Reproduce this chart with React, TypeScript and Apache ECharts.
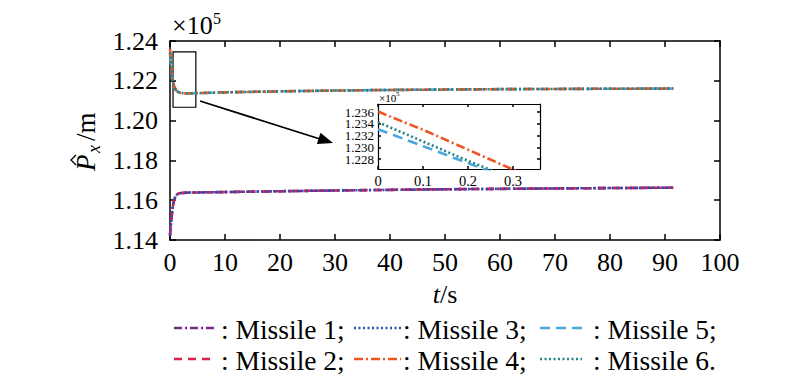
import React, { useEffect, useRef } from "react";
import * as echarts from "echarts";

// ---- data (values in units of 10^5 m) ----
const time = [0, 0.1, 0.2, 0.3, 0.4, 0.5, 0.7, 1, 1.3, 1.6, 2, 2.5, 3, 5, 10, 20, 30, 40, 50, 60, 70, 80, 91.5];

const missile1 = [1.1420, 1.1455, 1.1487, 1.1516, 1.1542, 1.1564, 1.1595, 1.1619, 1.1629, 1.1634, 1.1636, 1.1637, 1.1638, 1.1639, 1.1641, 1.1645, 1.1649, 1.1652, 1.1655, 1.1657, 1.1659, 1.1661, 1.1663];
const missile2 = [1.1428, 1.1459, 1.1490, 1.1518, 1.1544, 1.1566, 1.1597, 1.1620, 1.1629, 1.1634, 1.1636, 1.1637, 1.1638, 1.1639, 1.1641, 1.1645, 1.1649, 1.1652, 1.1655, 1.1657, 1.1659, 1.1661, 1.1663];
const missile3 = [1.1424, 1.1457, 1.1488, 1.1517, 1.1543, 1.1565, 1.1596, 1.1619, 1.1629, 1.1634, 1.1636, 1.1637, 1.1638, 1.1639, 1.1641, 1.1645, 1.1649, 1.1652, 1.1655, 1.1657, 1.1659, 1.1661, 1.1663];
const missile4 = [1.2361, 1.2330, 1.2296, 1.2262, 1.2232, 1.2208, 1.2178, 1.2158, 1.2148, 1.2142, 1.2139, 1.2137, 1.2137, 1.2138, 1.2142, 1.2147, 1.2151, 1.2154, 1.2156, 1.2158, 1.2159, 1.2160, 1.2161];
const missile5 = [1.2331, 1.2302, 1.2273, 1.2244, 1.2219, 1.2199, 1.2174, 1.2156, 1.2147, 1.2142, 1.2139, 1.2137, 1.2137, 1.2138, 1.2142, 1.2147, 1.2151, 1.2154, 1.2156, 1.2158, 1.2159, 1.2160, 1.2161];
const missile6 = [1.2343, 1.2310, 1.2277, 1.2246, 1.2221, 1.2200, 1.2174, 1.2157, 1.2148, 1.2142, 1.2139, 1.2137, 1.2137, 1.2138, 1.2142, 1.2147, 1.2151, 1.2154, 1.2156, 1.2158, 1.2159, 1.2160, 1.2161];

const insetYTicks = [1.228, 1.230, 1.232, 1.234, 1.236];
const insetYLabelsA = [1.228, 1.232, 1.236];
const insetYLabelsB = [1.230, 1.234];
const insetXTicks = [0, 0.1, 0.2, 0.3];

// zoom box in data coordinates [t, value]
const zoomBox = [[0.55, 1.2345], [4.7, 1.2067]];

const legendRows = [
  ["Missile 1;", "Missile 3;", "Missile 5;"],
  ["Missile 2;", "Missile 4;", "Missile 6."],
];

// ---- styles ----
const FONT = "Liberation Serif";
const styleOf: Record<string, { color: string; dash: number[]; z: number }> = {
  "Missile 1": { color: "#7B2A8C", dash: [8, 3, 2, 3], z: 2 },
  "Missile 2": { color: "#D92050", dash: [8, 6], z: 3 },
  "Missile 3": { color: "#2B4FB2", dash: [2, 2.5], z: 4 },
  "Missile 4": { color: "#EE5522", dash: [9, 3, 2, 3], z: 6 },
  "Missile 5": { color: "#48A8DC", dash: [10, 6], z: 5 },
  "Missile 6": { color: "#238585", dash: [2, 2.5], z: 7 },
};
const seriesData: Record<string, number[]> = {
  "Missile 1": missile1,
  "Missile 2": missile2,
  "Missile 3": missile3,
  "Missile 4": missile4,
  "Missile 5": missile5,
  "Missile 6": missile6,
};

function pairs(vals: number[]) {
  return time.map((t, i) => [t, vals[i]]);
}

export default function App() {
  const ref = useRef<HTMLDivElement>(null);
  useEffect(() => {
    if (!ref.current) return;
    const chart = echarts.init(ref.current, null, { renderer: "svg" });

    const axisLine = { show: true, onZero: false, lineStyle: { color: "#000", width: 1.5 } };
    const tick = (len: number) => ({ show: true, inside: true, length: len, lineStyle: { color: "#000", width: 1.5 } });

    const series: any[] = [];
    Object.keys(seriesData).forEach((name) => {
      const st = styleOf[name];
      const s: any = {
        name,
        type: "line",
        xAxisIndex: 0,
        yAxisIndex: 0,
        data: pairs(seriesData[name]),
        showSymbol: false,
        symbol: "none",
        z: st.z,
        lineStyle: { color: st.color, width: 2.6, type: st.dash },
        clip: true,
      };
      if (name === "Missile 4") {
        s.markArea = {
          silent: true,
          label: { show: false },
          itemStyle: { color: "rgba(0,0,0,0)", borderColor: "#000", borderWidth: 1.2 },
          data: [[{ coord: zoomBox[0] }, { coord: zoomBox[1] }]],
        };
      }
      series.push(s);
    });
    ["Missile 5", "Missile 4", "Missile 6"].forEach((name) => {
      const st = styleOf[name];
      series.push({
        name: name + " (inset)",
        type: "line",
        xAxisIndex: 2,
        yAxisIndex: 2,
        data: pairs(seriesData[name]),
        showSymbol: false,
        symbol: "none",
        z: st.z,
        lineStyle: { color: st.color, width: 2.6, type: st.dash },
        clip: true,
      });
    });

    // legend graphics
    const legendGraphics: any[] = [];
    const colLine = [[174, 215], [354, 401], [540, 582]];
    const colText = [221, 403, 593];
    const rowY = [328, 359];
    legendRows.forEach((row, r) => {
      row.forEach((label, c) => {
        const key = label.slice(0, 9);
        const st = styleOf[key];
        legendGraphics.push({
          type: "line",
          shape: { x1: colLine[c][0], y1: rowY[r], x2: colLine[c][1], y2: rowY[r] },
          style: { stroke: st.color, lineWidth: 2.5, lineDash: st.dash },
        });
        legendGraphics.push({
          type: "text",
          x: colText[c],
          y: rowY[r] - 13,
          style: { text: ": " + label, fontFamily: FONT, fontSize: 27.5, fill: "#000" },
        });
      });
    });

    const labelFont = (size: number) => ({ fontSize: size, fontFamily: FONT, color: "#000" });
    const insetYLabel = (vals: number[]) => ({
      ...labelFont(13), margin: 4, lineHeight: 11, interval: 0, formatter: (v: number) => v.toFixed(3),
      customValues: vals, hideOverlap: false, showMinLabel: true, showMaxLabel: true,
    });

    const option: any = {
      animation: false,
      backgroundColor: "#fff",
      textStyle: { fontFamily: FONT },
      grid: [
        { left: 170, top: 41, width: 550, height: 199, outerBoundsMode: "none", containLabel: false },
        { left: 378, top: 104, width: 162, height: 65, outerBoundsMode: "none", containLabel: false, show: true, backgroundColor: "#fff", borderWidth: 0, z: 3 },
      ],
      xAxis: [
        {
          gridIndex: 0, type: "value", min: 0, max: 100, interval: 10, position: "bottom",
          axisLine, axisTick: tick(6), splitLine: { show: false },
          axisLabel: { ...labelFont(26), margin: 9, hideOverlap: false },
          name: "{i|t}{n|/s}", nameLocation: "middle", nameGap: 41,
          nameTextStyle: {
            fontFamily: FONT,
            rich: {
              i: { ...labelFont(26), fontStyle: "italic" },
              n: labelFont(26),
            },
          },
        },
        {
          gridIndex: 0, type: "value", min: 0, max: 100, interval: 10, position: "top",
          axisLine, axisTick: tick(6), splitLine: { show: false }, axisLabel: { show: false },
        },
        {
          gridIndex: 1, type: "value", min: 0, max: 0.36, position: "bottom",
          axisLine: { ...axisLine, lineStyle: { color: "#000", width: 1.2 } },
          axisTick: { ...tick(3), customValues: insetXTicks }, splitLine: { show: false },
          axisLabel: { ...labelFont(14.5), margin: 4, interval: 0, customValues: insetXTicks, hideOverlap: false, showMinLabel: true, showMaxLabel: true },
          z: 4,
        },
        {
          gridIndex: 1, type: "value", min: 0, max: 0.36, position: "top",
          axisLine: { ...axisLine, lineStyle: { color: "#000", width: 1.2 } },
          axisTick: { ...tick(3), customValues: insetXTicks }, splitLine: { show: false }, axisLabel: { show: false },
          z: 4,
        },
      ],
      yAxis: [
        {
          gridIndex: 0, type: "value", min: 1.14, max: 1.24, interval: 0.02, position: "left",
          axisLine, axisTick: tick(6), splitLine: { show: false },
          axisLabel: { ...labelFont(26), margin: 12, formatter: (v: number) => v.toFixed(2), hideOverlap: false },
        },
        {
          gridIndex: 0, type: "value", min: 1.14, max: 1.24, interval: 0.02, position: "right",
          axisLine, axisTick: tick(6), splitLine: { show: false }, axisLabel: { show: false },
        },
        {
          gridIndex: 1, type: "value", min: 1.2263, max: 1.2374, position: "left",
          axisLine: { ...axisLine, lineStyle: { color: "#000", width: 1.2 } },
          axisTick: { ...tick(3), customValues: insetYTicks }, splitLine: { show: false },
          axisLabel: insetYLabel(insetYLabelsA),
          z: 4,
        },
        {
          gridIndex: 1, type: "value", min: 1.2263, max: 1.2374, position: "right",
          axisLine: { ...axisLine, lineStyle: { color: "#000", width: 1.2 } },
          axisTick: { ...tick(3), customValues: insetYTicks }, splitLine: { show: false }, axisLabel: { show: false },
          z: 4,
        },
        {
          gridIndex: 1, type: "value", min: 1.2263, max: 1.2374, position: "left", offset: 0,
          axisLine: { show: false }, axisTick: { show: false }, splitLine: { show: false },
          axisLabel: insetYLabel(insetYLabelsB),
          z: 4,
        },
      ],
      series,
      graphic: [
        // x10^5 main
        { type: "text", x: 172, y: 12, style: { text: "×10", fontFamily: FONT, fontSize: 26, fill: "#000" } },
        { type: "text", x: 213, y: 10, style: { text: "5", fontFamily: FONT, fontSize: 16, fill: "#000" } },
        // x10^5 inset
        { type: "text", x: 379, y: 92, z: 10, style: { text: "×10", fontFamily: FONT, fontSize: 11, fill: "#000" } },
        { type: "text", x: 396, y: 90, z: 10, style: { text: "5", fontFamily: FONT, fontSize: 7, fill: "#000" } },
        // y-axis title, rotated
        {
          type: "group", x: 93, y: 171, rotation: Math.PI / 2,
          children: [
            { type: "text", x: 0, y: -21, style: { text: "P", fontFamily: FONT, fontStyle: "italic", fontSize: 27, fill: "#000" } },
            { type: "polyline", shape: { points: [[6, -17], [11, -22], [16, -17]] }, style: { stroke: "#000", lineWidth: 1.3, fill: null } },
            { type: "text", x: 18, y: -8, style: { text: "x", fontFamily: FONT, fontStyle: "italic", fontSize: 18, fill: "#000" } },
            { type: "text", x: 30, y: -21, style: { text: "/m", fontFamily: FONT, fontSize: 27, fill: "#000" } },
          ],
        },
        // arrow
        { type: "line", shape: { x1: 200, y1: 101, x2: 320, y2: 139 }, style: { stroke: "#000", lineWidth: 1.8 } },
        { type: "polygon", shape: { points: [[333, 143], [316.9, 144.1], [320.5, 132.7]] }, style: { fill: "#000" } },
        ...legendGraphics,
      ],
    };
    chart.setOption(option);
    return () => chart.dispose();
  }, []);
  return <div ref={ref} style={{ position: "fixed", left: 0, top: 0, width: 800, height: 378, background: "#fff" }} />;
}
